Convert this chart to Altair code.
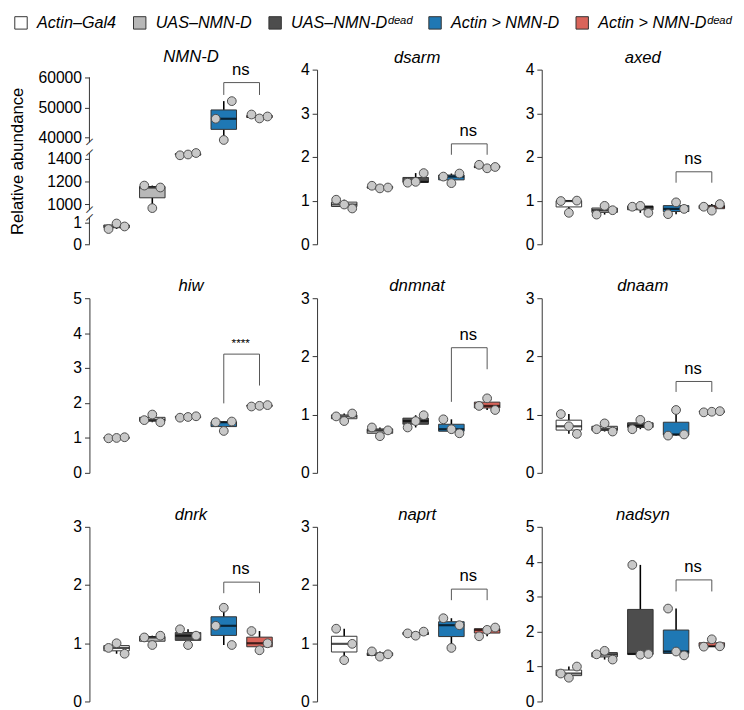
import altair as alt
import pandas as pd

# ---------------- data ----------------
GROUPS = ["Actin–Gal4", "UAS–NMN-D", "UAS–NMN-Dᵈᵉᵃᵈ", "Actin > NMN-D", "Actin > NMN-Dᵈᵉᵃᵈ"]
COLORS = ["#ffffff", "#b8b8b8", "#4d4d4d", "#1f78b4", "#d9645a"]

PANELS = ["NMN-D", "dsarm", "axed", "hiw", "dnmnat", "dnaam", "dnrk", "naprt", "nadsyn"]
Y_MAX = [60000, 4, 4, 5, 3, 3, 3, 3, 5]

# three replicates per genotype, listed left to right as drawn
nmnd_values = [[0.72, 0.98, 0.84], [1164, 966, 1147], [1430, 1437, 1452],
               [46290, 39250, 52150], [47700, 46400, 47050]]
dsarm_values = [[1.02, 0.91, 0.82], [1.34, 1.28, 1.30], [1.41, 1.43, 1.63],
                [1.55, 1.40, 1.62], [1.82, 1.74, 1.77]]
axed_values = [[0.99, 0.72, 1.00], [0.68, 0.88, 0.78], [0.86, 0.88, 0.72],
               [0.69, 0.96, 0.81], [0.86, 0.77, 0.92]]
hiw_values = [[0.99, 1.00, 1.02], [1.51, 1.67, 1.45], [1.58, 1.60, 1.62],
              [1.45, 1.20, 1.47], [1.90, 1.92, 1.94]]
dnmnat_values = [[0.97, 0.89, 1.02], [0.78, 0.63, 0.73], [0.78, 0.89, 0.99],
                 [0.92, 0.75, 0.68], [1.15, 1.28, 1.08]]
dnaam_values = [[1.01, 0.80, 0.67], [0.75, 0.85, 0.71], [0.75, 0.91, 0.81],
                [0.64, 1.08, 0.66], [1.04, 1.05, 1.06]]
dnrk_values = [[0.92, 1.00, 0.82], [1.10, 0.97, 1.13], [1.24, 0.97, 1.13],
               [1.30, 1.61, 0.97], [1.21, 0.88, 1.00]]
naprt_values = [[1.25, 0.71, 0.99], [0.86, 0.77, 0.81], [1.17, 1.13, 1.20],
                [1.43, 0.92, 1.31], [1.12, 1.23, 1.27]]
nadsyn_values = [[0.80, 0.68, 1.00], [1.35, 1.45, 1.20], [3.91, 1.34, 1.36],
                 [2.66, 1.43, 1.32], [1.57, 1.78, 1.58]]

# significance brackets: bar height, left tip, right tip, label
BRACKET_TOP = [58300, 2.30, 1.66, 3.40, 2.15, 1.57, 2.05, 1.93, 3.48]
BRACKET_LEFT = [54200, 2.05, 1.41, 1.99, 1.22, 1.39, 1.86, 1.74, 3.15]
BRACKET_RIGHT = [54200, 2.05, 1.41, 2.50, 1.78, 1.39, 1.86, 1.74, 3.15]
BRACKET_LABEL = ["ns", "ns", "ns", "****", "ns", "ns", "ns", "ns", "ns"]

# broken axis of the NMN-D panel
NMND_DOMAIN = [0, 1.25, 950, 1450, 38500, 60000]
NMND_TICKS = [0, 1, 1000, 1200, 1400, 40000, 50000, 60000]
NMND_SEG_LO = [0, 950, 38500]
NMND_SEG_HI = [1.25, 1450, 60000]

ALL_VALUES = [nmnd_values, dsarm_values, axed_values, hiw_values, dnmnat_values,
              dnaam_values, dnrk_values, naprt_values, nadsyn_values]

FONT = "Liberation Sans"
H = 178
WIDTHS = [191, 188, 190]


def make_panel(i):
    name = PANELS[i]
    rows = []
    for gi, g in enumerate(GROUPS):
        for r, v in enumerate(ALL_VALUES[i][gi]):
            rows.append({"group": g, "rep": r, "value": v})
    df = pd.DataFrame(rows)
    bd = pd.DataFrame([{"a": GROUPS[3], "b": GROUPS[4], "top": BRACKET_TOP[i],
                        "lt": BRACKET_LEFT[i], "rt": BRACKET_RIGHT[i],
                        "label": BRACKET_LABEL[i]}])

    xscale = alt.Scale(domain=GROUPS, range=[14, 187], paddingInner=0.25, paddingOuter=0)
    x_enc = alt.X("group:N", scale=xscale, axis=None)

    broken = i == 0
    if broken:
        yscale = alt.Scale(domain=NMND_DOMAIN, range=[H, 151, 143, 85, 74, 8],
                           nice=False, zero=False)
        yaxis = alt.Axis(values=NMND_TICKS, format="d", domain=False,
                         title="Relative abundance", titleFontSize=17,
                         titleFont=FONT, titleFontWeight="normal", titleColor="black",
                         titlePadding=12)
    else:
        yscale = alt.Scale(domain=[0, Y_MAX[i]], nice=False)
        yaxis = alt.Axis(values=list(range(Y_MAX[i] + 1)), title=None)

    def yenc(field):
        return alt.Y(field, type="quantitative", scale=yscale, axis=yaxis)

    box = alt.Chart(df).mark_boxplot(
        extent="min-max", size=26, ticks=False, outliers=False,
        box={"stroke": "#333333", "strokeWidth": 1},
        median={"color": "black", "thickness": 2.2},
        rule={"color": "black", "strokeWidth": 1.6},
    ).encode(
        x=x_enc,
        y=yenc("value"),
        color=alt.Color("group:N", scale=alt.Scale(domain=GROUPS, range=COLORS),
                        legend=alt.Legend(title=None)),
    )

    pts = alt.Chart(df).mark_circle(
        size=80, color="#c8c8c8", stroke="#4d4d4d", strokeWidth=1, opacity=1
    ).encode(
        x=x_enc,
        xOffset=alt.XOffset("rep:N", scale=alt.Scale(paddingOuter=0.67)),
        y=yenc("value"),
    )

    bx = alt.X("a:N", scale=xscale, axis=None)
    hbar = alt.Chart(bd).mark_rule(color="#555555", strokeWidth=1).encode(
        x=bx, x2="b:N", y=yenc("top"))
    ltip = alt.Chart(bd).mark_rule(color="#555555", strokeWidth=1).encode(
        x=bx, y=yenc("top"), y2="lt:Q")
    rtip = alt.Chart(bd).mark_rule(color="#555555", strokeWidth=1).encode(
        x=alt.X("b:N", scale=xscale, axis=None), y=yenc("top"), y2="rt:Q")
    fs = 12 if BRACKET_LABEL[i] == "****" else 17
    txt = alt.Chart(bd).mark_text(dx=17.3, dy=-4, baseline="bottom", fontSize=fs,
                                  font=FONT, color="black").encode(
        x=bx, y=yenc("top"), text="label:N")

    layers = [box, pts, hbar, ltip, rtip, txt]
    if broken:
        seg = pd.DataFrame({"lo": NMND_SEG_LO, "hi": NMND_SEG_HI})
        segs = alt.Chart(seg).mark_rule(color="#333333", strokeWidth=1).encode(
            x=alt.value(0), y=yenc("lo"), y2="hi:Q")
        sl = pd.DataFrame({"v": NMND_SEG_HI[:2] + NMND_SEG_LO[1:]})
        slashes = alt.Chart(sl).mark_text(text="/", fontSize=12, angle=30, font=FONT,
                                          color="#333333").encode(
            x=alt.value(0), y=yenc("v"))
        layers += [segs, slashes]

    return alt.layer(*layers).properties(
        width=WIDTHS[i % 3], height=H,
        title=alt.TitleParams(name, fontStyle="italic", fontSize=17, font=FONT,
                              fontWeight="normal", offset=-5, dx=8, anchor="middle"),
    )


chart = alt.concat(*[make_panel(i) for i in range(9)], columns=3,
                   spacing={"row": 26, "column": 24}, align="each").properties(
    padding={"left": 0, "top": 0, "right": 4, "bottom": 0}
).configure_view(stroke=None).configure_axis(
    labelFont=FONT, labelFontSize=16, labelColor="black", tickColor="#333333",
    domainColor="#333333", tickSize=5, labelPadding=3, grid=False,
).configure_legend(
    orient="none", legendX=-78, legendY=-56, direction="horizontal",
    symbolType="square", symbolSize=160, symbolStrokeColor="#333333",
    symbolStrokeWidth=1, symbolOpacity=1, labelFont=FONT, labelFontSize=16.5,
    labelFontStyle="italic", labelColor="black", labelOffset=8, columnPadding=14,
    labelLimit=0,
)

chart.save("out.html", embed_options={"renderer": "svg", "actions": False})
